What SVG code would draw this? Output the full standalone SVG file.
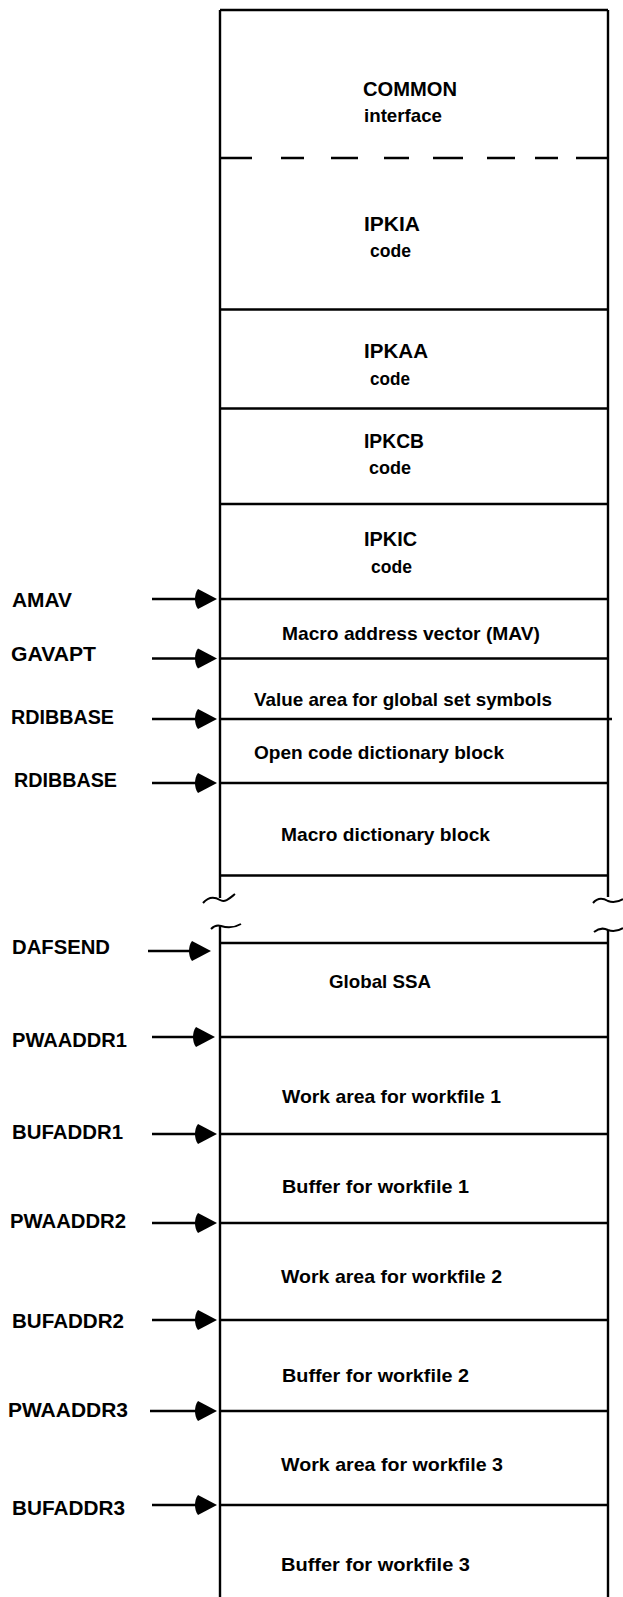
<svg xmlns="http://www.w3.org/2000/svg" width="623" height="1597" viewBox="0 0 623 1597">
<style>
text{font-family:"Liberation Sans",Arial,sans-serif;font-weight:bold;fill:#000}
.t{font-size:19px}
.u{font-size:20px}
.lbl{font-size:20px}
.sep{stroke:#000;stroke-width:2.6;fill:none}
.bd{stroke:#000;stroke-width:2.4;fill:none}
.sq{stroke:#000;stroke-width:2;fill:none}
.arr{stroke:#000;stroke-width:2.4;fill:none;marker-end:url(#ah)}
</style>
<defs>
<marker id="ah" markerUnits="userSpaceOnUse" markerWidth="26" markerHeight="24" viewBox="-5 -12 26 24" refX="0" refY="0" orient="auto">
<path d="M0,-10 L19,0 L0,10 C-4,5 -4,-5 0,-10 Z" fill="#000"/>
</marker>
</defs>
<rect width="623" height="1597" fill="#fff"/>

<g id="frame">
<path class="bd" d="M220,10 H608 M220,10 V898 M608,10 V897 M220,925 V1597 M608,930 V1597"/>
<path class="sq" d="M203,903 C209,896 215,897 220,900 C225,903 230,898 235,894"/>
<path class="sq" d="M211,929 C215,925 218,925 221,926 C227,928 234,928 241,924"/>
<path class="sq" d="M593,903 C598,897 603,898 608,901 C613,903 618,902 623,899"/>
<path class="sq" d="M594,932 C599,928 604,928 608,930 C613,932 618,931 623,928"/>
</g>

<g id="node-common">
<text class="u" x="363" y="96" textLength="94" lengthAdjust="spacingAndGlyphs">COMMON</text>
<text class="t" x="364" y="122" textLength="78" lengthAdjust="spacingAndGlyphs">interface</text>
<path class="sep" d="M221,158 H252 M281,158 H304 M331,158 H358 M384,158 H409 M433,158 H463 M487,158 H515 M535,158 H558 M576,158 H608"/>
</g>

<g id="node-ipkia">
<text class="u" x="364" y="231" textLength="56" lengthAdjust="spacingAndGlyphs">IPKIA</text>
<text class="t" x="370" y="257" textLength="41" lengthAdjust="spacingAndGlyphs">code</text>
<path class="sep" d="M220,309.5 H608"/>
</g>

<g id="node-ipkaa">
<text class="u" x="364" y="358" textLength="64" lengthAdjust="spacingAndGlyphs">IPKAA</text>
<text class="t" x="370" y="385" textLength="40" lengthAdjust="spacingAndGlyphs">code</text>
<path class="sep" d="M220,408.5 H608"/>
</g>

<g id="node-ipkcb">
<text class="u" x="364" y="448" textLength="60" lengthAdjust="spacingAndGlyphs">IPKCB</text>
<text class="t" x="369" y="474" textLength="42" lengthAdjust="spacingAndGlyphs">code</text>
<path class="sep" d="M220,504 H608"/>
</g>

<g id="node-ipkic">
<text class="u" x="364" y="546" textLength="53" lengthAdjust="spacingAndGlyphs">IPKIC</text>
<text class="t" x="371" y="573" textLength="41" lengthAdjust="spacingAndGlyphs">code</text>
<path class="sep" d="M220,599 H608"/>
</g>

<g id="node-mav">
<text class="t" x="282" y="640" textLength="258" lengthAdjust="spacingAndGlyphs">Macro address vector (MAV)</text>
<path class="sep" d="M220,658.5 H608"/>
</g>

<g id="node-gvalue">
<text class="t" x="254" y="706" textLength="298" lengthAdjust="spacingAndGlyphs">Value area for global set symbols</text>
<path class="sep" d="M220,719 H612"/>
</g>

<g id="node-opencode">
<text class="t" x="254" y="759" textLength="250" lengthAdjust="spacingAndGlyphs">Open code dictionary block</text>
<path class="sep" d="M220,783 H608"/>
</g>

<g id="node-macrodict">
<text class="t" x="281" y="841" textLength="209" lengthAdjust="spacingAndGlyphs">Macro dictionary block</text>
<path class="sep" d="M220,875.5 H608"/>
</g>

<g id="node-globalssa">
<path class="sep" d="M221,943 H608"/>
<text class="t" x="329" y="988" textLength="102" lengthAdjust="spacingAndGlyphs">Global SSA</text>
<path class="sep" d="M220,1037 H608"/>
</g>

<g id="node-work1">
<text class="t" x="282" y="1103" textLength="219" lengthAdjust="spacingAndGlyphs">Work area for workfile 1</text>
<path class="sep" d="M220,1134 H608"/>
</g>

<g id="node-buf1">
<text class="t" x="282" y="1193" textLength="187" lengthAdjust="spacingAndGlyphs">Buffer for workfile 1</text>
<path class="sep" d="M220,1223 H608"/>
</g>

<g id="node-work2">
<text class="t" x="281" y="1283" textLength="221" lengthAdjust="spacingAndGlyphs">Work area for workfile 2</text>
<path class="sep" d="M220,1320 H608"/>
</g>

<g id="node-buf2">
<text class="t" x="282" y="1382" textLength="187" lengthAdjust="spacingAndGlyphs">Buffer for workfile 2</text>
<path class="sep" d="M220,1411 H608"/>
</g>

<g id="node-work3">
<text class="t" x="281" y="1471" textLength="222" lengthAdjust="spacingAndGlyphs">Work area for workfile 3</text>
<path class="sep" d="M220,1505 H608"/>
</g>

<g id="node-buf3">
<text class="t" x="281" y="1571" textLength="189" lengthAdjust="spacingAndGlyphs">Buffer for workfile 3</text>
</g>

<g id="labels">
<text class="lbl" x="12" y="607" textLength="60" lengthAdjust="spacingAndGlyphs">AMAV</text>
<text class="lbl" x="11" y="661" textLength="85" lengthAdjust="spacingAndGlyphs">GAVAPT</text>
<text class="lbl" x="11" y="724" textLength="103" lengthAdjust="spacingAndGlyphs">RDIBBASE</text>
<text class="lbl" x="14" y="787" textLength="103" lengthAdjust="spacingAndGlyphs">RDIBBASE</text>
<text class="lbl" x="12" y="954" textLength="98" lengthAdjust="spacingAndGlyphs">DAFSEND</text>
<text class="lbl" x="12" y="1047" textLength="115" lengthAdjust="spacingAndGlyphs">PWAADDR1</text>
<text class="lbl" x="12" y="1139" textLength="111" lengthAdjust="spacingAndGlyphs">BUFADDR1</text>
<text class="lbl" x="10" y="1228" textLength="116" lengthAdjust="spacingAndGlyphs">PWAADDR2</text>
<text class="lbl" x="12" y="1328" textLength="112" lengthAdjust="spacingAndGlyphs">BUFADDR2</text>
<text class="lbl" x="8" y="1417" textLength="120" lengthAdjust="spacingAndGlyphs">PWAADDR3</text>
<text class="lbl" x="12" y="1515" textLength="113" lengthAdjust="spacingAndGlyphs">BUFADDR3</text>
</g>

<g id="connectors">
<line class="arr" x1="152" y1="599" x2="198" y2="599"/>
<line class="arr" x1="152" y1="658.5" x2="198" y2="658.5"/>
<line class="arr" x1="152" y1="719" x2="198" y2="719"/>
<line class="arr" x1="152" y1="783" x2="198" y2="783"/>
<line class="arr" x1="148" y1="951" x2="192" y2="951"/>
<line class="arr" x1="152" y1="1037" x2="196" y2="1037"/>
<line class="arr" x1="152" y1="1134" x2="198" y2="1134"/>
<line class="arr" x1="152" y1="1223" x2="198" y2="1223"/>
<line class="arr" x1="152" y1="1320" x2="198" y2="1320"/>
<line class="arr" x1="150" y1="1411" x2="198" y2="1411"/>
<line class="arr" x1="152" y1="1505" x2="198" y2="1505"/>
</g>
</svg>
